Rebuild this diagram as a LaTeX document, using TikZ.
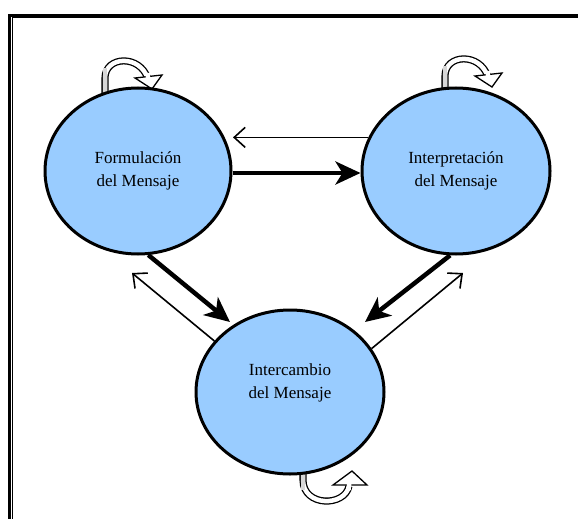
\documentclass[tikz,border=0pt]{standalone}
\usepackage{fontspec}
\setmainfont{Liberation Serif}
\usetikzlibrary{shapes.geometric,arrows.meta,calc}
\definecolor{circblue}{RGB}{153,204,255}
\definecolor{stripgray}{RGB}{215,215,215}
\begin{document}
\begin{tikzpicture}[x=1pt,y=-1pt,
  state/.style={ellipse, draw, line width=3pt, fill=circblue, minimum width=186pt, minimum height=166pt, inner sep=0pt, align=center, font=\fontsize{17}{23}\selectfont},
  heavy/.style={line width=4.5pt, -{Stealth[length=25pt,width=23pt,inset=7pt]}},
  light/.style={line width=1.6pt, -{Straight Barb[length=11pt,width=20pt]}},
  ribbon/.style={line width=1.3pt, double=white, double distance=4.5pt},
  strip/.style={stripgray, line width=4.5pt},
  loophead/.style={fill=white, draw, line width=1.3pt, line join=miter},
  cover/.style={white, line width=4.5pt}]
\useasboundingbox (0,0) rectangle (578,519);
\clip (0,0) rectangle (578,519);
% frame
\draw[line width=2.7pt] (9.7,530) -- (9.7,15.2) -- (590,15.2);
\draw[line width=1pt] (12.5,530) -- (12.5,17.8) -- (590,17.8);
% self loops
\foreach \sx/\sy in {0/0, 340/-2}{
  \begin{scope}[shift={(\sx,\sy)}]
    \draw[ribbon] (105,100) -- (105,78) .. controls (105,56) and (140,54) .. (148,79);
    \draw[strip] (105,100) -- (105,68);
    \draw[loophead] (135,78) -- (152,89) -- (162,75) -- cycle;
    \draw[cover] (147.5,73) -- (148.3,79.5);
  \end{scope}
}
\draw[ribbon] (303,460) -- (303,480) .. controls (303,507) and (345,507) .. (349,486);
\draw[strip] (303,460) -- (303,490);
\draw[loophead] (333,485) -- (352,471) -- (367,485) -- cycle;
\draw[cover] (348.5,490) -- (349.3,483);
% states
\node[state] (F) at (138,171) {Formulación\\del Mensaje};
\node[state, minimum width=188pt] (I) at (456,171) {Interpretación\\del Mensaje};
\node[state, minimum width=188pt, minimum height=164pt] (B) at (290,392)
  {\raisebox{5pt}[0pt][0pt]{\begin{tabular}{@{}c@{}}Intercambio\\del Mensaje\end{tabular}}};
% connectors
\coordinate (t2) at (230,322);
\coordinate (t3) at (132,273);
\coordinate (t4) at (365,322);
\coordinate (t5) at (463,273);
\draw[light] (I.159) -- (I.159 -| 233,0);
\draw[heavy] ([yshift=-2pt]F.east) -- ([yshift=-2pt]F.east -| I.west);
\draw[heavy] (F.-83) -- (t2);
\draw[light] (B.146) -- (t3);
\draw[heavy] (I.-94) -- (t4);
\draw[light] (B.28) -- (t5);
\end{tikzpicture}
\end{document}
